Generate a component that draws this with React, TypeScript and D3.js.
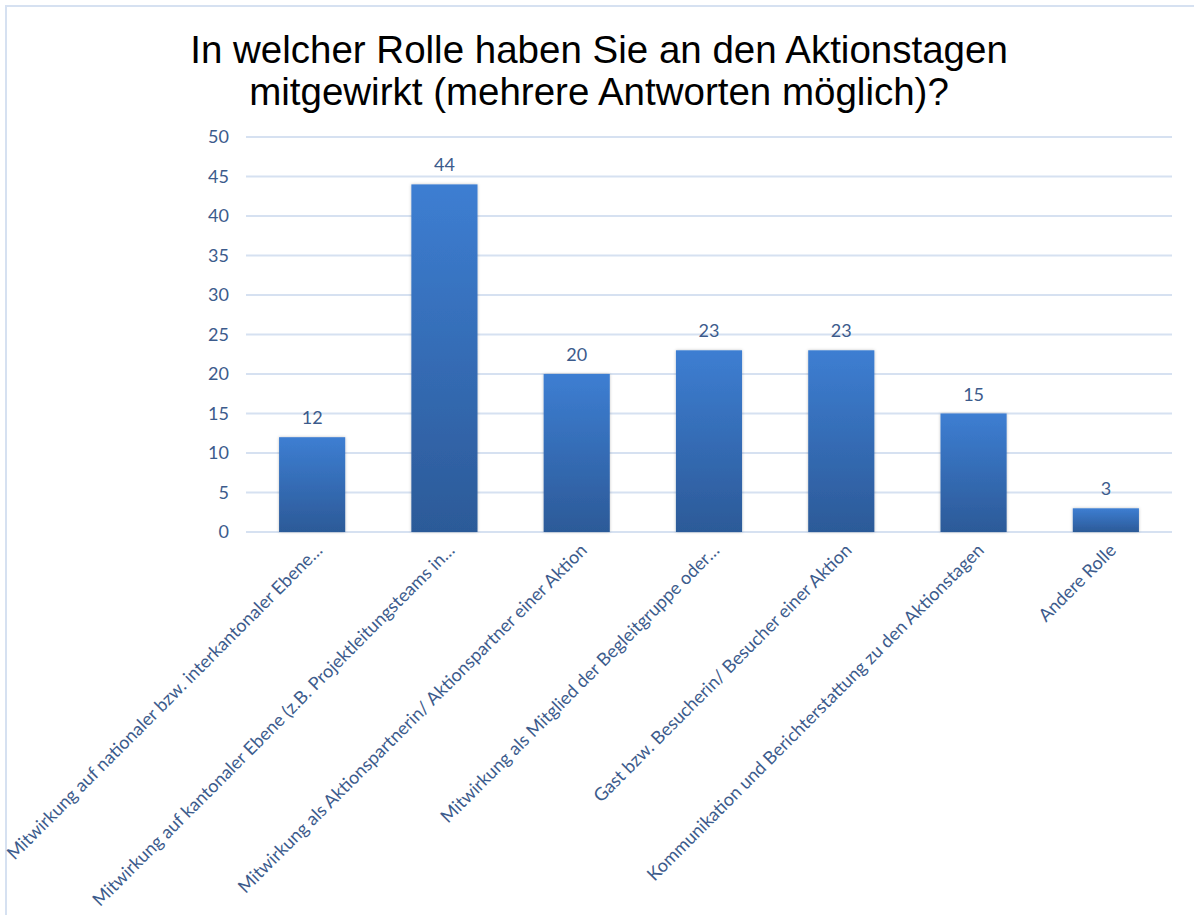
import React, { useEffect } from "react";
import * as d3 from "d3";

const categories: string[] = [
  "Mitwirkung auf nationaler bzw. interkantonaler Ebene…",
  "Mitwirkung auf kantonaler Ebene (z.B. Projektleitungsteams in…",
  "Mitwirkung als Aktionspartnerin/ Aktionspartner einer Aktion",
  "Mitwirkung als Mitglied der Begleitgruppe oder…",
  "Gast bzw. Besucherin/ Besucher einer Aktion",
  "Kommunikation und Berichterstattung zu den Aktionstagen",
  "Andere Rolle",
];
const values: number[] = [12, 44, 20, 23, 23, 15, 3];
const yTicks: number[] = [0, 5, 10, 15, 20, 25, 30, 35, 40, 45, 50];
const titleLines: string[] = [
  "In welcher Rolle haben Sie an den Aktionstagen",
  "mitgewirkt (mehrere Antworten möglich)?",
];

const W = 1194;
const H = 915;
const plotLeft = 246;
const plotRight = 1172;
const plotTop = 137;
const plotBottom = 532;
const textColor = "#3c5b8c";
const gridColor = "#d6e1f1";
const labelFont = "Lato, 'Open Sans', sans-serif";

export default function App() {
  useEffect(() => {
    document.body.style.margin = "0";
  }, []);

  const x = d3
    .scaleBand<string>()
    .domain(categories)
    .range([plotLeft, plotRight])
    .paddingInner(0.5)
    .paddingOuter(0.25);
  const y = d3.scaleLinear().domain([0, 50]).range([plotBottom, plotTop]);

  return (
    <svg width={W} height={H} style={{ display: "block", background: "#fff" }}>
      <defs>
        <linearGradient id="barGrad" x1="0" y1="0" x2="0" y2="1">
          <stop offset="0%" stopColor="#3d7ed2" />
          <stop offset="100%" stopColor="#2c5a98" />
        </linearGradient>
        <filter id="shadow" x="-20%" y="-20%" width="140%" height="140%">
          <feDropShadow dx="0" dy="0" stdDeviation="1.5" floodColor="#000" floodOpacity="0.25" />
        </filter>
      </defs>
      {/* frame */}
      <line x1={5} x2={W} y1={6} y2={6} stroke={gridColor} strokeWidth={2} />
      <line x1={6} x2={6} y1={5} y2={H} stroke={gridColor} strokeWidth={2} />

      {/* title */}
      <text
        x={599}
        textAnchor="middle"
        fontFamily="'Liberation Sans', Arial, sans-serif"
        fontSize={38.5}
        fill="#000"
      >
        {titleLines.map((t, i) => (
          <tspan key={i} x={599} y={63 + i * 42}>
            {t}
          </tspan>
        ))}
      </text>

      {/* gridlines */}
      {yTicks.map((t) => (
        <g key={t}>
          <line
            x1={plotLeft}
            x2={plotRight}
            y1={y(t)}
            y2={y(t)}
            stroke={gridColor}
            strokeWidth={2}
          />
          <text
            x={229}
            y={y(t)}
            dy="0.35em"
            textAnchor="end"
            fontFamily={labelFont}
            fontSize={18}
            fill={textColor}
          >
            {t}
          </text>
        </g>
      ))}

      {/* bars */}
      {categories.map((c, i) => (
        <g key={c}>
          <rect
            x={x(c)!}
            y={y(values[i])}
            width={x.bandwidth()}
            height={y(0) - y(values[i])}
            fill="url(#barGrad)"
            filter="url(#shadow)"
          />
          <text
            x={x(c)! + x.bandwidth() / 2}
            y={y(values[i]) - 13}
            textAnchor="middle"
            fontFamily={labelFont}
            fontSize={18}
            fill={textColor}
          >
            {values[i]}
          </text>
        </g>
      ))}

      {/* x labels */}
      {categories.map((c) => {
        const cx = x(c)! + x.bandwidth() / 2;
        return (
          <text
            key={c}
            transform={`translate(${cx + 7},${plotBottom + 15}) rotate(-45)`}
            dy="0.35em"
            textAnchor="end"
            fontFamily={labelFont}
            fontSize={18}
            fill={textColor}
          >
            {c}
          </text>
        );
      })}
    </svg>
  );
}
